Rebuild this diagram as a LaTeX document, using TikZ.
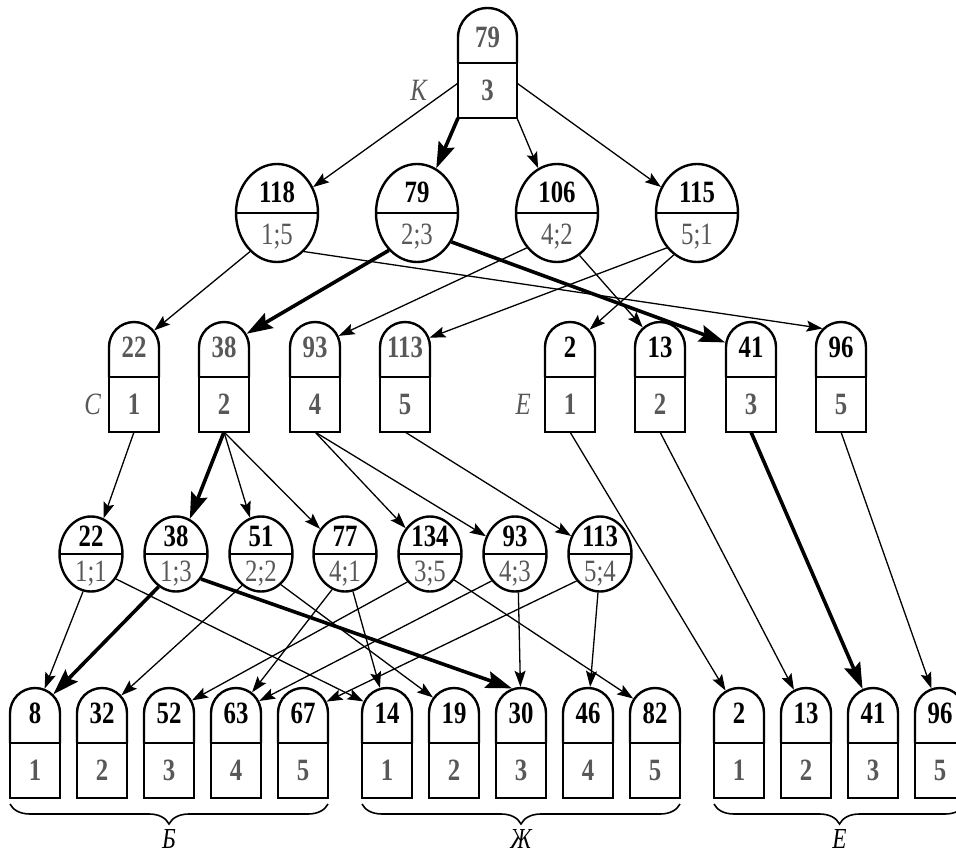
\documentclass[tikz,border=0pt]{standalone}
\usepackage{fontspec}
\setmainfont{Liberation Serif}[FakeStretch=0.8]
\usetikzlibrary{arrows.meta,shapes.geometric,decorations.pathreplacing,positioning}
\definecolor{shade}{RGB}{88,88,88}
\tikzset{
  >={Stealth[length=16pt,width=11pt,inset=3pt]}
}
% half-round cell: name, x, y of split line, width, upper text, lower text
\newcommand{\pill}[6]{%
  \node[cell,minimum width=#4pt] (#1) at (#2,#3) {#6};
  \node[dome,minimum size=#4pt] (#1T) at (#2,{#3+55-#4/2}) {#5};
  \draw[rim] (#1.north west) -- ++(0pt,{55pt-#4pt/2})
    arc[start angle=180,end angle=0,radius=#4pt/2] -- (#1.north east);
}

\begin{document}
\begin{tikzpicture}[x=1pt,y=1pt,
        cell/.style={rectangle,draw,line width=2.4pt,anchor=north,minimum height=55pt,inner sep=0pt,outer sep=0pt,text=shade,font=\fontsize{31}{36}\selectfont\bfseries},
        dome/.style={circle,inner sep=0pt,outer sep=1.2pt,font=\fontsize{31}{36}\selectfont\bfseries},
        rim/.style={line width=2.4pt},
        duo/.style={ellipse,draw,line width=2.4pt,inner sep=0pt,align=center,text depth=0pt,
          path picture={\draw[line width=2.4pt] (path picture bounding box.west) -- (path picture bounding box.east);}},
        duoA/.style={duo,minimum width=82pt,minimum height=98pt,font=\fontsize{31}{42}\selectfont},
        duoB/.style={duo,minimum width=63pt,minimum height=75pt,inner ysep=-2.5pt,font=\fontsize{31}{35}\selectfont},
        tag/.style={inner sep=0pt,text=shade,font=\fontsize{31}{36}\selectfont\itshape},
        group/.style={inner sep=0pt,font=\fontsize{29}{34}\selectfont\itshape},
        link/.style={->,line width=1.3pt},
        hot/.style={-{Stealth[length=26pt,width=17pt,inset=4pt]},line width=3.6pt},
        brace/.style={decorate,decoration={brace,mirror,amplitude=20pt},line width=1.6pt}
      ]
      \useasboundingbox (0,0) rectangle (956,-859);
      \pill{ROOT}{487.5}{-63}{59}{\color{shade}79}{3}
      \node[tag,left=31pt of ROOT] (KLAB) {К};

      \node[duoA] (P15) at (277,-213) {{\bfseries 118}\\{\color{shade}1;5}};
      \node[duoA] (P23) at (417,-213) {{\bfseries 79}\\{\color{shade}2;3}};
      \node[duoA] (P42) at (557,-213) {{\bfseries 106}\\{\color{shade}4;2}};
      \node[duoA] (P51) at (697,-213) {{\bfseries 115}\\{\color{shade}5;1}};

      \pill{C1}{134}{-377}{50}{\color{shade}22}{1}
      \pill{C2}{224}{-377}{50}{\color{shade}38}{2}
      \pill{C4}{315}{-377}{50}{\color{shade}93}{4}
      \pill{C5}{405}{-377}{50}{\color{shade}113}{5}
      \pill{E1}{570}{-377}{50}{2}{1}
      \pill{E2}{660}{-377}{50}{13}{2}
      \pill{E3}{751}{-377}{50}{41}{3}
      \pill{E5}{841}{-377}{50}{96}{5}
      \node[tag,left=8pt of C1] (CLAB) {С};
      \node[tag,left=14pt of E1] (ELAB) {Е};

      \node[duoB] (Q11) at (91,-554) {{\bfseries 22}\\{\color{shade}1;1}};
      \node[duoB] (Q13) at (176,-554) {{\bfseries 38}\\{\color{shade}1;3}};
      \node[duoB] (Q22) at (261,-554) {{\bfseries 51}\\{\color{shade}2;2}};
      \node[duoB] (Q41) at (345,-554) {{\bfseries 77}\\{\color{shade}4;1}};
      \node[duoB] (Q35) at (430,-554) {{\bfseries 134}\\{\color{shade}3;5}};
      \node[duoB] (Q43) at (515,-554) {{\bfseries 93}\\{\color{shade}4;3}};
      \node[duoB] (Q54) at (600,-554) {{\bfseries 113}\\{\color{shade}5;4}};

      \pill{B1}{35}{-743}{50}{8}{1}
      \pill{B2}{102}{-743}{50}{32}{2}
      \pill{B3}{169}{-743}{50}{52}{3}
      \pill{B4}{236}{-743}{50}{63}{4}
      \pill{B5}{303}{-743}{50}{67}{5}
      \pill{ZH1}{387}{-743}{50}{14}{1}
      \pill{ZH2}{454}{-743}{50}{19}{2}
      \pill{ZH3}{521}{-743}{50}{30}{3}
      \pill{ZH4}{588}{-743}{50}{46}{4}
      \pill{ZH5}{655}{-743}{50}{82}{5}
      \pill{EE1}{739}{-743}{50}{2}{1}
      \pill{EE2}{806}{-743}{50}{13}{2}
      \pill{EE3}{873}{-743}{50}{41}{3}
      \pill{EE5}{940}{-743}{50}{96}{5}

      \draw[link] (ROOT.166) -- (P15);
      \draw[hot] (ROOT.south west) -- (P23);
      \draw[link] (ROOT.south east) -- (P42);
      \draw[link] (ROOT.14) -- (P51);

      \draw[link] (P15.235) -- (C1T);
      \draw[link] (P15.-55) -- (E5T.135);
      \draw[hot] (P23.233) -- (C2T);
      \draw[hot] (P23.-40) -- (E3T.170);
      \draw[link] (P42.229) -- (C4T);
      \draw[link] (P42.-62) -- (E2T);
      \draw[link] (P51.229) -- (C5T);
      \draw[link] (P51.241) -- (E1T);

      \draw[link] (C1.south) -- (Q11);
      \draw[hot] (C2.south) -- (Q13);
      \draw[link] (C2.south) -- (Q22);
      \draw[link] (C2.south) -- (Q41);
      \draw[link] (C4.south) -- (Q35);
      \draw[link] (C4.south) -- (Q43);
      \draw[link] (C5.south) -- (Q54);

      \draw[link] (Q11.258) -- (B1T);
      \draw[link] (Q11.-45) -- (ZH1T);
      \draw[hot] (Q13.242) -- (B1T);
      \draw[hot] (Q13.-45) -- (ZH3T.110);
      \draw[link] (Q22.239) -- (B2T);
      \draw[link] (Q22.-57) -- (ZH2T);
      \draw[link] (Q41.250) -- (B4T);
      \draw[link] (Q41.-78) -- (ZH1T);
      \draw[link] (Q35.231) -- (B3T);
      \draw[link] (Q35.-47) -- (ZH5T);
      \draw[link] (Q43.229) -- (B4T);
      \draw[link] (Q43.-85) -- (ZH3T);
      \draw[link] (Q54.229) -- (B5T);
      \draw[link] (Q54.267) -- (ZH4T);

      \draw[link] (E1.south) -- (EE1T);
      \draw[link] (E2.south) -- (EE2T);
      \draw[hot] (E3.south) -- (EE3T);
      \draw[link] (E5.south) -- (EE5T);

      \draw[brace] ([yshift=-6pt]B1.south west) -- ([yshift=-6pt]B5.south east) node[group,midway,below=25pt] (BLAB) {Б};
      \draw[brace] ([yshift=-6pt]ZH1.south west) -- ([yshift=-6pt]ZH5.south east) node[group,midway,below=25pt] (ZLAB) {Ж};
      \draw[brace] ([yshift=-6pt]EE1.south west) -- ([yshift=-6pt]EE5.south east) node[group,midway,below=25pt] (EBLAB) {Е};
    \end{tikzpicture}
\end{document}
